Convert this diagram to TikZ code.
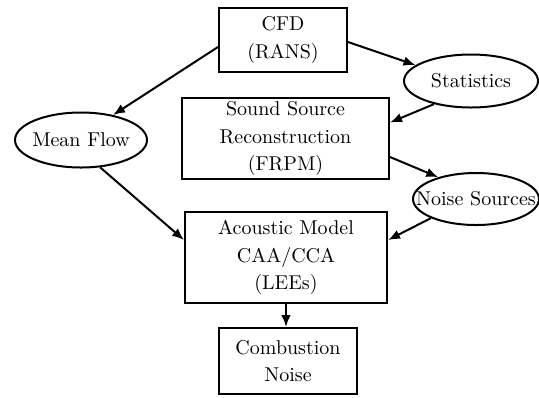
\documentclass[tikz,border=0pt]{standalone}
\usetikzlibrary{shapes.geometric,arrows.meta,calc}
\begin{document}
\begin{tikzpicture}[x=0.5pt,y=-0.5pt,
  every node/.style={font=\fontsize{10}{13.6}\selectfont},
  box/.style={draw,line width=1pt,rectangle,align=center,inner sep=0pt},
  ell/.style={draw,line width=1pt,ellipse,inner sep=0pt},
  lbl/.style={inner sep=0pt,align=center},
  arr/.style={line width=1pt,-{Latex[length=6pt,width=4.8pt]}}]
\useasboundingbox (0,0) rectangle (539,397);
\node[box,minimum width=64pt,minimum height=32pt] (cfd) at (283,40) {CFD\\(RANS)};
\node[ell,minimum width=67pt,minimum height=26.5pt] (stat) at (471,81) {};
\node[lbl] (statT) at (stat) {Statistics};
\node[ell,minimum width=66pt,minimum height=27.5pt] (mean) at (81,140) {};
\node[lbl] (meanT) at (mean) {Mean Flow};
\node[box,minimum width=103.5pt,minimum height=40.5pt] (ssr) at (285.5,138.5) {Sound Source\\Reconstruction\\(FRPM)};
\node[ell,minimum width=63pt,minimum height=26pt] (noise) at (476,199) {};
\node[lbl] (noiseT) at (noise) {Noise Sources};
\node[box,minimum width=101pt,minimum height=45.5pt] (acm) at (286,257.5) {Acoustic Model\\CAA/CCA\\(LEEs)};
\node[box,minimum width=69pt,minimum height=33pt] (comb) at (288,361) {Combustion\\Noise};
\draw[arr] ($(cfd.west)+(0,7)$) -- (mean.38);
\draw[arr] ($(cfd.east)+(0,2)$) -- (stat.164);
\draw[arr] (stat.212) -- ($(ssr.east)+(0,-16)$);
\draw[arr] ($(ssr.east)+(0,18.5)$) -- (noise.150);
\draw[arr] (mean.305) -- ($(acm.west)+(0,-17.5)$);
\draw[arr] (noise.203) -- ($(acm.east)+(0,-17.5)$);
\draw[arr] (acm.south) -- (acm.south |- comb.north);
\end{tikzpicture}
\end{document}
